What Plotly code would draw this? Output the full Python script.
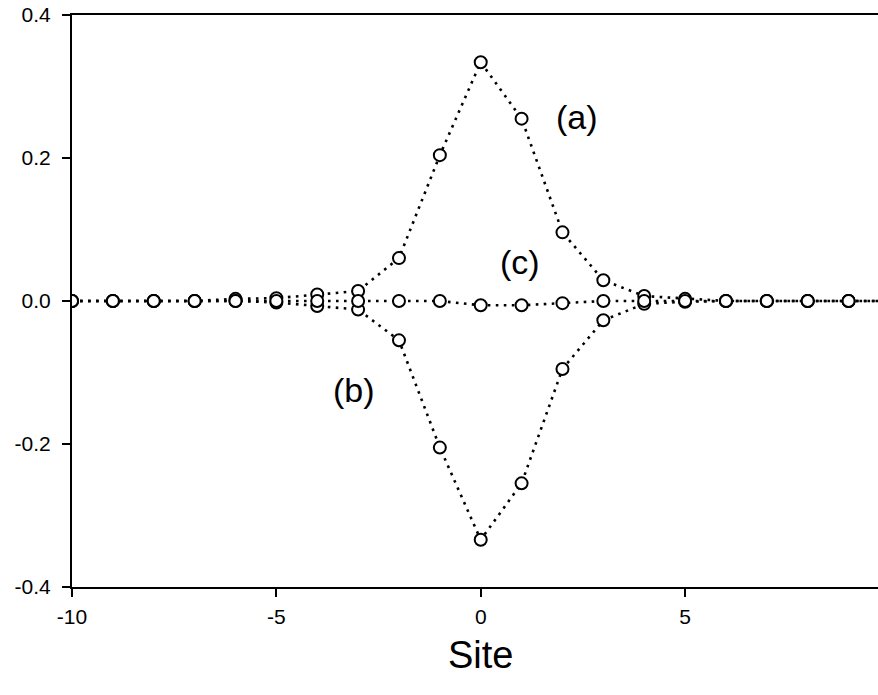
import plotly.graph_objects as go

# Lattice sites
sites = list(range(-10, 11))

# Amplitude profiles per site
series_a = [0.000, 0.000, 0.000, 0.000, 0.003, 0.004, 0.009, 0.014, 0.060, 0.204, 0.334,
            0.255, 0.096, 0.029, 0.007, 0.003, 0.000, 0.000, 0.000, 0.000, 0.000]
series_b = [0.000, 0.000, 0.000, 0.000, -0.000, -0.002, -0.007, -0.012, -0.055, -0.205, -0.334,
            -0.255, -0.095, -0.027, -0.004, -0.001, 0.000, 0.000, 0.000, 0.000, 0.000]
series_c = [0.000, 0.000, 0.000, 0.000, 0.000, 0.000, 0.000, 0.000, 0.000, 0.000, -0.006,
            -0.006, -0.003, 0.000, 0.000, 0.000, 0.000, 0.000, 0.000, 0.000, 0.000]

x_tickvals = [-10, -5, 0, 5]
x_ticktext = ["-10", "-5", "0", "5"]
y_tickvals = [-0.4, -0.2, 0.0, 0.2, 0.4]
y_ticktext = ["-0.4", "-0.2", "0.0", "0.2", "0.4"]

FONT = "Liberation Sans, Arial, sans-serif"
PLOT_H = 695 - 15 - 108  # plot area height in px

fig = go.Figure()
for ys in (series_a, series_b, series_c):
    fig.add_trace(go.Scatter(
        x=sites, y=ys, mode="lines+markers",
        line=dict(color="black", width=2.6, dash="2.6px,5.4px"),
        marker=dict(symbol="circle", size=12, color="white",
                    line=dict(width=2, color="black")),
        showlegend=False,
    ))

fig.update_layout(
    width=878, height=695,
    margin=dict(l=72, r=0, t=15, b=108),
    plot_bgcolor="white", paper_bgcolor="white",
    font=dict(family=FONT, color="black", size=21),
    xaxis=dict(
        range=[-10, 9.72], showgrid=False, zeroline=False,
        showline=True, linecolor="black", linewidth=2, mirror=True,
        ticks="outside", ticklen=8, tickwidth=1.5, tickcolor="black",
        tickvals=x_tickvals, ticktext=x_ticktext, ticklabelstandoff=2,
        tickfont=dict(size=21, family=FONT, color="black"),
    ),
    yaxis=dict(
        range=[-0.4, 0.4], showgrid=False, zeroline=False,
        showline=True, linecolor="black", linewidth=2, mirror=False,
        ticks="outside", ticklen=8, tickwidth=1.5, tickcolor="black",
        tickvals=y_tickvals, ticktext=y_ticktext, ticklabelstandoff=7,
        tickfont=dict(size=21, family=FONT, color="black"),
    ),
    annotations=[
        dict(x=2.35, y=0.258, xref="x", yref="y", text="(a)", showarrow=False,
             font=dict(size=34, family=FONT)),
        dict(x=-3.1, y=-0.124, xref="x", yref="y", text="(b)", showarrow=False,
             font=dict(size=34, family=FONT)),
        dict(x=0.95, y=0.055, xref="x", yref="y", text="(c)", showarrow=False,
             font=dict(size=34, family=FONT)),
        dict(x=0, y=-(655 - 587) / PLOT_H, xref="x", yref="paper",
             yanchor="middle", text="Site", showarrow=False,
             font=dict(size=38, family=FONT)),
    ],
)

fig.write_html("out.html")
